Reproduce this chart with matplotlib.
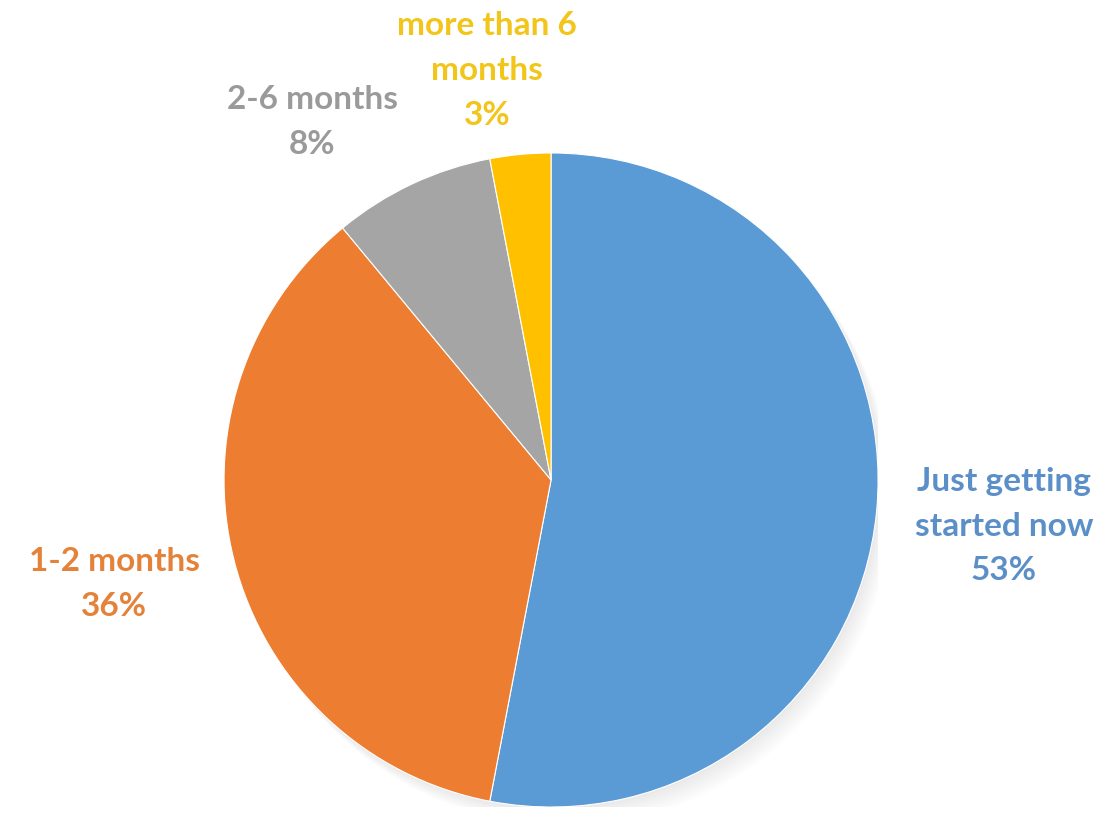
import matplotlib
matplotlib.use("Agg")
import matplotlib.pyplot as plt
from matplotlib.patches import Circle

labels = ["Just getting\nstarted now", "1-2 months", "2-6 months", "more than 6\nmonths"]
shares = [53, 36, 8, 3]
colors = ["#5B9BD5", "#ED7D31", "#A5A5A5", "#FFC000"]
text_colors = ["#5B8FC8", "#E5823A", "#9A9A9A", "#F2C51A"]
# label anchors in pie units (radius = 1)
label_pos = [(1.385, -0.141), (-1.336, -0.318), (-0.73, 1.095), (-0.196, 1.252)]

fig = plt.figure(figsize=(11.02, 8.15), dpi=100)
ax = fig.add_axes([0.2033, 0.0098, 0.5935, 0.8025])

# soft shadow under the pie
for i in range(8):
    ax.add_patch(Circle((0.006 * i, -0.008 * i), 1.0, color="black",
                        alpha=0.012, zorder=0, lw=0))

ax.pie(shares, colors=colors, startangle=90, counterclock=False, radius=1.0,
       wedgeprops=dict(edgecolor="white", linewidth=0.8))
ax.set_xlim(-1, 1)
ax.set_ylim(-1, 1)
ax.set_aspect("equal")
ax.axis("off")

for lab, val, col, (x, y) in zip(labels, shares, text_colors, label_pos):
    ax.text(x, y, f"{lab}\n{val}%", ha="center", va="center", color=col,
            fontsize=24, fontweight="bold", family="Lato", linespacing=1.65,
            clip_on=False)

fig.savefig("out.png", dpi=100)
